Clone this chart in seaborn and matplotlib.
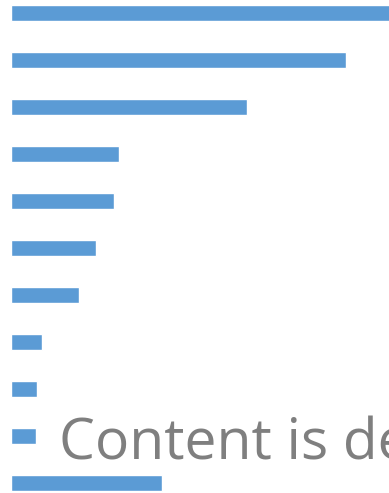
import matplotlib
matplotlib.use("Agg")
import matplotlib.pyplot as plt
import seaborn as sns
import pandas as pd

# Bar chart data (top to bottom)
categories = ["c01", "c02", "c03", "c04", "c05", "c06", "c07", "c08", "c09", "c10", "c11"]
values = [392, 335.5, 236.5, 108.5, 104, 86, 69, 31, 26, 25, 151.5]

df = pd.DataFrame({"category": categories, "value": values})

sns.set_theme(style="white")
plt.rcParams["font.family"] = ["Open Sans", "DejaVu Sans"]

fig = plt.figure(figsize=(3.89, 4.93), dpi=100)
ax = fig.add_axes([0, 0, 1, 1])

sns.barplot(data=df, y="category", x="value", orient="h", color="#5B9BD5",
            width=0.35, saturation=1, ax=ax)

ax.set_xlim(-10.5, 378.5)
ax.set_ylim(10.213, -0.2766)
ax.set_axis_off()

fig.text(59 / 389, (493 - 459) / 493, "Content is deleted", color="#7F7F7F",
         fontsize=41, ha="left", va="baseline")

fig.savefig("out.png", dpi=100)
